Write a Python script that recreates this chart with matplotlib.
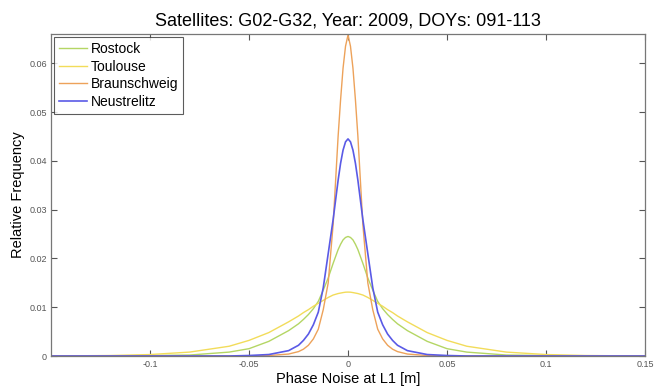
import matplotlib
matplotlib.use("Agg")
import matplotlib.pyplot as plt

plt.rcParams['font.family'] = ['Liberation Sans', 'DejaVu Sans']

x = [-0.15, -0.12, -0.10, -0.08, -0.06, -0.05, -0.04, -0.03, -0.025, -0.0225, -0.02, -0.0175,
     -0.015, -0.0125, -0.01, -0.0075, -0.005, -0.00375, -0.0025, -0.00125, 0.0,
     0.00125, 0.0025, 0.00375, 0.005, 0.0075, 0.01, 0.0125, 0.015, 0.0175, 0.02, 0.0225,
     0.025, 0.03, 0.04, 0.05, 0.06, 0.08, 0.10, 0.12, 0.15]

rostock = [0.0, 0.0, 0.0001, 0.0002, 0.0008, 0.0015, 0.0030, 0.0052, 0.0066, 0.0075, 0.0085, 0.0097,
           0.0112, 0.0135, 0.0160, 0.0190, 0.0218, 0.0229, 0.0238, 0.0243, 0.0245,
           0.0243, 0.0238, 0.0229, 0.0218, 0.0190, 0.0160, 0.0135, 0.0112, 0.0097, 0.0085, 0.0075,
           0.0066, 0.0052, 0.0030, 0.0015, 0.0008, 0.0002, 0.0001, 0.0, 0.0]

toulouse = [0.0, 0.0001, 0.0003, 0.0008, 0.0020, 0.0032, 0.0048, 0.0070, 0.0082, 0.0089, 0.0095, 0.0102,
            0.0108, 0.0114, 0.0120, 0.0125, 0.0128, 0.0129, 0.0130, 0.01308, 0.0131,
            0.01308, 0.0130, 0.0129, 0.0128, 0.0125, 0.0120, 0.0114, 0.0108, 0.0102, 0.0095, 0.0089,
            0.0082, 0.0070, 0.0048, 0.0032, 0.0020, 0.0008, 0.0003, 0.0001, 0.0]

braunschweig = [0.0, 0.0, 0.0, 0.0, 0.0, 0.0, 0.0001, 0.0004, 0.0009, 0.0014, 0.0022, 0.0035,
                0.0055, 0.0095, 0.0150, 0.0270, 0.0450, 0.0525, 0.0590, 0.0635, 0.0658,
                0.0635, 0.0590, 0.0525, 0.0450, 0.0270, 0.0150, 0.0095, 0.0055, 0.0035, 0.0022, 0.0014,
                0.0009, 0.0004, 0.0001, 0.0, 0.0, 0.0, 0.0, 0.0, 0.0]

neustrelitz = [0.0, 0.0, 0.0, 0.0, 0.0, 0.0001, 0.0003, 0.0011, 0.0022, 0.0032, 0.0045, 0.0064,
               0.0090, 0.0140, 0.0210, 0.0280, 0.0360, 0.0395, 0.0422, 0.0439, 0.0445,
               0.0439, 0.0422, 0.0395, 0.0360, 0.0280, 0.0210, 0.0140, 0.0090, 0.0064, 0.0045, 0.0032,
               0.0022, 0.0011, 0.0003, 0.0001, 0.0, 0.0, 0.0, 0.0, 0.0]

labels = ['Rostock', 'Toulouse', 'Braunschweig', 'Neustrelitz']
colors = ['#b4d664', '#f2dc5a', '#eda25a', '#5a5ae6']
xticks = [-0.1, -0.05, 0, 0.05, 0.1, 0.15]
xticklabels = ['-0.1', '-0.05', '0', '0.05', '0.1', '0.15']
yticks = [0, 0.01, 0.02, 0.03, 0.04, 0.05, 0.06]
yticklabels = ['0', '0.01', '0.02', '0.03', '0.04', '0.05', '0.06']

fig = plt.figure(figsize=(6.64, 3.87), dpi=100)
ax = fig.add_axes([0.0768, 0.0801, 0.8946, 0.8320])

for series, lab, col, lw in zip([rostock, toulouse, braunschweig, neustrelitz], labels, colors,
                                [1.0, 1.0, 1.0, 1.2]):
    ax.plot(x, series, color=col, lw=lw, label=lab)

ax.set_xlim(-0.15, 0.15)
ax.set_ylim(0, 0.066)
ax.set_xticks(xticks)
ax.set_xticklabels(xticklabels)
ax.set_yticks(yticks)
ax.set_yticklabels(yticklabels)
ax.tick_params(direction='in', top=True, right=True, labelsize=6.5, colors='#555555',
               length=4, width=0.8, pad=3)
for s in ax.spines.values():
    s.set_color('#777777')
    s.set_linewidth(0.9)

ax.set_title('Satellites: G02-G32, Year: 2009, DOYs: 091-113', fontsize=13, pad=6)
ax.set_xlabel('Phase Noise at L1 [m]', fontsize=10.5, labelpad=2)
ax.set_ylabel('Relative Frequency', fontsize=10.5, labelpad=3)

leg = ax.legend(loc='upper left', fontsize=10, frameon=True, fancybox=False,
                handlelength=2.0, borderaxespad=0.25, labelspacing=0.25,
                borderpad=0.35, handletextpad=0.25)
leg.get_frame().set_edgecolor('#333333')
leg.get_frame().set_linewidth(0.8)

fig.savefig('out.png', dpi=100)
